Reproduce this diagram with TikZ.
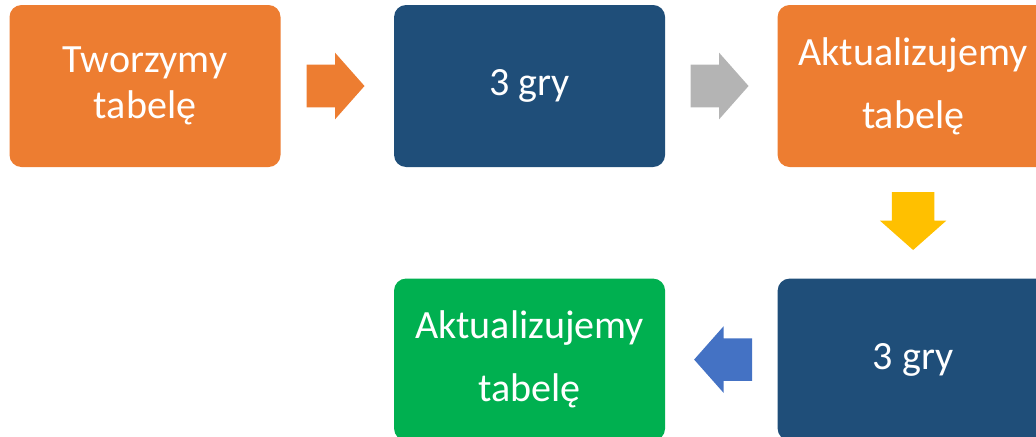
\documentclass[tikz,border=0pt]{standalone}
\usepackage{fontspec}
\setmainfont{Carlito}
\usetikzlibrary{positioning,shapes.arrows,calc}

\definecolor{boxorange}{HTML}{ED7D31}
\definecolor{boxblue}{HTML}{1F4E79}
\definecolor{boxgreen}{HTML}{00B050}
\definecolor{arrgray}{HTML}{B4B4B4}
\definecolor{arryellow}{HTML}{FFC000}
\definecolor{arrblue}{HTML}{4472C4}

\tikzset{
	box/.style={rectangle, rounded corners=0.3cm, minimum width=6.775cm, minimum height=4.05cm,
		text=white, align=center, font=\fontsize{28.5}{33}\selectfont},
	blockarrow/.style={single arrow, draw=none, inner xsep=0pt, inner ysep=0.525cm, minimum height=1.45cm,
		single arrow head extend=0.3cm, single arrow tip angle=97},
}

\begin{document}
\begin{tikzpicture}[node distance=2.8cm]
	\clip (0,0) rectangle (25.9,-10.9);
	\node[box, fill=boxorange] (tab1) at (3.625,-2.15) {Tworzymy\\tabelę};
	\node[box, fill=boxblue, right=2.825cm of tab1] (gry1) {3 gry};
	\node[box, fill=boxorange, right=2.8cm of gry1] (tab2) {Aktualizujemy\\[12pt]tabelę};
	\node[box, fill=boxblue, below=2.775cm of tab2] (gry2) {3 gry};
	\node[box, fill=boxgreen, left=2.8cm of gry2] (tab3) {Aktualizujemy\\[12pt]tabelę};
	% strzalki miedzy blokami
	\foreach \a/\b/\c/\r in {tab1/gry1/boxorange/0, gry1/tab2/arrgray/0, tab2/gry2/arryellow/270, gry2/tab3/arrblue/180} {
		\node[blockarrow, fill=\c, rotate=\r] (arr-\a) at ($(\a)!0.5!(\b)!0.28cm!(\a)$) {};
	}
\end{tikzpicture}
\end{document}
